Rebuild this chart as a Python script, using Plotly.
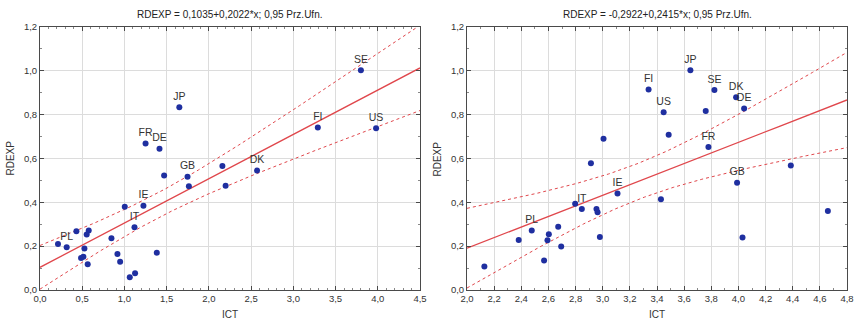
import numpy as np
import plotly.graph_objects as go

# ---- data: left panel (ICT vs RDEXP) ----
left_labels = ["SE", "JP", "FI", "US", "FR", "DE", "", "DK", "", "GB", "", "", "IE", "", "IT",
               "", "", "", "", "", "PL", "", "", "", "", "", "", "", "", ""]
left_x = [3.80, 1.65, 3.29, 3.98, 1.25, 1.415, 2.16, 2.57, 1.47, 1.747, 1.763, 2.198, 1.225, 1.004, 1.119,
          0.431, 0.577, 0.553, 0.846, 0.213, 0.316, 0.526, 0.486, 0.514, 0.917, 1.383, 0.949, 0.565, 1.126, 1.063]
left_y = [1.003, 0.834, 0.741, 0.738, 0.668, 0.645, 0.566, 0.545, 0.522, 0.517, 0.473, 0.476, 0.384, 0.380, 0.286,
          0.268, 0.271, 0.253, 0.236, 0.210, 0.195, 0.189, 0.146, 0.152, 0.164, 0.170, 0.129, 0.117, 0.076, 0.058]
left_coef = (0.1035, 0.2022)
left_title = "RDEXP = 0,1035+0,2022*x; 0,95 Prz.Ufn."

# ---- data: right panel ----
right_labels = ["JP", "FI", "SE", "DK", "DE", "", "US", "", "", "FR", "", "", "GB", "IE", "", "", "IT", "", "",
                "", "", "PL", "", "", "", "", "", "", "", ""]
right_x = [3.646, 3.338, 3.823, 3.983, 4.042, 3.759, 3.449, 3.006, 3.486, 3.779, 2.913, 4.386, 3.990, 3.109, 3.429,
           2.797, 2.846, 2.954, 2.962, 4.659, 2.672, 2.477, 2.603, 2.593, 2.381, 2.979, 4.030, 2.694, 2.568, 2.128]
right_y = [1.003, 0.915, 0.912, 0.880, 0.828, 0.817, 0.811, 0.690, 0.708, 0.653, 0.578, 0.568, 0.489, 0.440, 0.414,
           0.394, 0.370, 0.370, 0.355, 0.361, 0.289, 0.271, 0.254, 0.227, 0.228, 0.242, 0.239, 0.198, 0.135, 0.107]
right_coef = (-0.2922, 0.2415)
right_title = "RDEXP = -0,2922+0,2415*x; 0,95 Prz.Ufn."

x_title = "ICT"
y_title = "RDEXP"

W, H = 855, 320
FONT = "Liberation Sans, Arial, sans-serif"
MARK = "#1f2fa0"
LINE = "#e0474c"

T975 = {28: 2.0484}


def band(xs, ys, coef, xr):
    xs = np.asarray(xs); ys = np.asarray(ys)
    n = len(xs)
    a, b = coef
    resid = ys - (a + b * xs)
    s = np.sqrt(np.sum(resid ** 2) / (n - 2))
    xm = xs.mean()
    sxx = np.sum((xs - xm) ** 2)
    xx = np.linspace(xr[0], xr[1], 200)
    yh = a + b * xx
    se = s * np.sqrt(1.0 / n + (xx - xm) ** 2 / sxx)
    t = T975.get(n - 2, 2.05)
    return xx, yh, yh - t * se, yh + t * se


fig = go.Figure()

panels = [
    (left_x, left_y, left_labels, left_coef, left_title, [0, 4.5], "x", "y", [40 / W, 420 / W]),
    (right_x, right_y, right_labels, right_coef, right_title, [2.0, 4.8], "x2", "y2", [467 / W, 847 / W]),
]

for xs, ys, labs, coef, title, xr, xa, ya, dom in panels:
    xx, yh, lo, hi = band(xs, ys, coef, xr)
    fig.add_trace(go.Scatter(x=xx, y=yh, mode="lines", line=dict(color=LINE, width=1.3),
                             xaxis=xa, yaxis=ya, showlegend=False, hoverinfo="skip"))
    for yb in (lo, hi):
        fig.add_trace(go.Scatter(x=xx, y=yb, mode="lines", line=dict(color=LINE, width=1, dash="dot"),
                                 xaxis=xa, yaxis=ya, showlegend=False, hoverinfo="skip"))
    fig.add_trace(go.Scatter(x=xs, y=ys, mode="markers+text", text=labs, textposition="top center",
                             textfont=dict(family=FONT, size=10.5, color="#333"),
                             marker=dict(color=MARK, size=6),
                             xaxis=xa, yaxis=ya, showlegend=False))
    cx = (dom[0] + dom[1]) / 2
    fig.add_annotation(text=title, x=cx, y=1, xref="paper", yref="paper", yshift=13,
                       showarrow=False, font=dict(family=FONT, size=10, color="#222"),
                       xanchor="center", yanchor="middle")
    fig.add_annotation(text=x_title, x=cx, y=0, xref="paper", yref="paper", yshift=-24,
                       showarrow=False, font=dict(family=FONT, size=10, color="#333"),
                       xanchor="center", yanchor="middle")
    fig.add_annotation(text=y_title, x=dom[0], y=0.5, xref="paper", yref="paper", xshift=-30,
                       showarrow=False, textangle=-90, font=dict(family=FONT, size=10, color="#333"),
                       xanchor="center", yanchor="middle")

axis_common = dict(showline=True, linecolor="#4a4a4a", linewidth=1, mirror="ticks",
                   gridcolor="#dcdcdc", gridwidth=1, zeroline=False,
                   ticks="inside", ticklen=4, tickcolor="#4a4a4a",
                   tickfont=dict(family=FONT, size=9.5, color="#333"), tickformat=".1f")

fig.update_layout(
    width=W, height=H, plot_bgcolor="white", paper_bgcolor="white",
    margin=dict(l=0, r=0, t=27, b=30, autoexpand=False), separators=", ",
    xaxis=dict(domain=[40 / W, 420 / W], range=[0, 4.5], dtick=0.5, anchor="y",
               minor=dict(dtick=0.1, ticks="inside", ticklen=2, tickcolor="#888", showgrid=False),
               **axis_common),
    yaxis=dict(domain=[0, 1], range=[0, 1.2], dtick=0.2, anchor="x",
               minor=dict(dtick=0.1, ticks="inside", ticklen=2, tickcolor="#888", showgrid=False),
               **axis_common),
    xaxis2=dict(domain=[467 / W, 847 / W], range=[2.0, 4.8], dtick=0.2, anchor="y2",
                minor=dict(dtick=0.1, ticks="inside", ticklen=2, tickcolor="#888", showgrid=False),
                **axis_common),
    yaxis2=dict(domain=[0, 1], range=[0, 1.2], dtick=0.2, anchor="x2",
                minor=dict(dtick=0.1, ticks="inside", ticklen=2, tickcolor="#888", showgrid=False),
                **axis_common),
)

fig.write_html("out.html")
